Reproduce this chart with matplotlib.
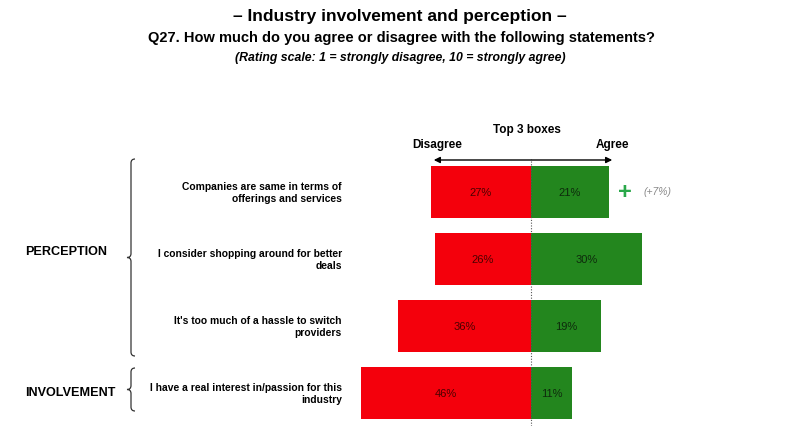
#!/usr/bin/env python3
# Diverging bar chart - "Top 3 boxes" agree / disagree per statement
import matplotlib
matplotlib.use("Agg")
import matplotlib.pyplot as plt
from matplotlib.path import Path
from matplotlib.patches import PathPatch, FancyArrowPatch

# ---------------- data ----------------
statements = [
    "Companies are same in terms of\nofferings and services",
    "I consider shopping around for better\ndeals",
    "It's too much of a hassle to switch\nproviders",
    "I have a real interest in/passion for this\nindustry",
]
disagree = [27, 26, 36, 46]
agree = [21, 30, 19, 11]
groups = ["PERCEPTION", "INVOLVEMENT"]
change_note = "(+7%)"

RED = "#f4000c"
GREEN = "#23861e"
W, H = 800, 427
plt.rcParams['font.family'] = ['Liberation Sans', 'DejaVu Sans']


def fx(x):
    return x / W


def fy(y):
    return 1 - y / H


fig = plt.figure(figsize=(8, 4.27), dpi=100)
fig.patch.set_facecolor("white")

# bar axes: x -50..50 mapped to px 346..716, rows centred at 193 + 67*i
ax = fig.add_axes([fx(346), fy(427), fx(716) - fx(346), fy(160) - fy(427)])
ax.set_xlim(-50, 50)
ax.set_ylim(3.49, -0.49)
ax.axis("off")

rows = list(range(len(statements)))
ax.barh(rows, [-d for d in disagree], height=0.78, color=RED)
ax.barh(rows, agree, height=0.78, color=GREEN)
ax.axvline(0, color="#555555", lw=0.8, ls=(0, (1, 1.5)))

for i in rows:
    ax.text(-disagree[i] / 2, i, f"{disagree[i]}%", ha="center", va="center",
            fontsize=8, color="#4a0000")
    ax.text(agree[i] / 2, i, f"{agree[i]}%", ha="center", va="center",
            fontsize=8, color="#0e2a0c")
    fig.text(fx(342), fy(193 + 67 * i), statements[i], ha="right", va="center",
             fontsize=7.4, fontweight="bold", linespacing=1.2)

# plus sign and change note on first row
ax.text(agree[0] + 4.5, 0, "+", ha="center", va="center", fontsize=17,
        fontweight="bold", color="#2aa84a")
fig.text(fx(644), fy(192), change_note, ha="left", va="center", fontsize=7.5,
         style="italic", color="#8a8a8a")

# header arrow and labels
fig.patches.append(FancyArrowPatch((fx(431), fy(161)), (fx(615), fy(161)),
                                   transform=fig.transFigure, arrowstyle="<|-|>",
                                   mutation_scale=9, lw=1, color="black"))
fig.text(fx(527), fy(130), "Top 3 boxes", ha="center", va="center",
         fontsize=8.5, fontweight="bold")
fig.text(fx(437), fy(145), "Disagree", ha="center", va="center",
         fontsize=8.5, fontweight="bold")
fig.text(fx(612), fy(145), "Agree", ha="center", va="center",
         fontsize=8.5, fontweight="bold")

# titles
fig.text(fx(400), fy(17), "\u2013 Industry involvement and perception \u2013",
         ha="center", va="center", fontsize=12.5, fontweight="bold")
fig.text(fx(401), fy(38),
         "Q27. How much do you agree or disagree with the following statements?",
         ha="center", va="center", fontsize=10.5, fontweight="bold")
fig.text(fx(400), fy(58),
         "(Rating scale: 1 = strongly disagree, 10 = strongly agree)",
         ha="center", va="center", fontsize=8.8, fontweight="bold", style="italic")


# braces
def brace(x, top, bot, d=4):
    mid = (top + bot) / 2
    pts = [(x + d, top), (x, top), (x, top + d),
           (x, mid - d), (x, mid), (x - d, mid),
           (x, mid), (x, mid + d),
           (x, bot - d), (x, bot), (x + d, bot)]
    codes = [Path.MOVETO, Path.CURVE3, Path.CURVE3,
             Path.LINETO, Path.CURVE3, Path.CURVE3,
             Path.CURVE3, Path.CURVE3,
             Path.LINETO, Path.CURVE3, Path.CURVE3]
    path = Path([(fx(px), fy(py)) for px, py in pts], codes)
    fig.patches.append(PathPatch(path, transform=fig.transFigure,
                                 fill=False, lw=0.9, color="#333333"))


brace(131, 160, 357)
brace(131, 369, 412)

fig.text(fx(25), fy(252), groups[0], ha="left", va="center",
         fontsize=9.1, fontweight="bold")
fig.text(fx(25), fy(393), groups[1], ha="left", va="center",
         fontsize=9.1, fontweight="bold")

fig.savefig("out.png", dpi=100)
